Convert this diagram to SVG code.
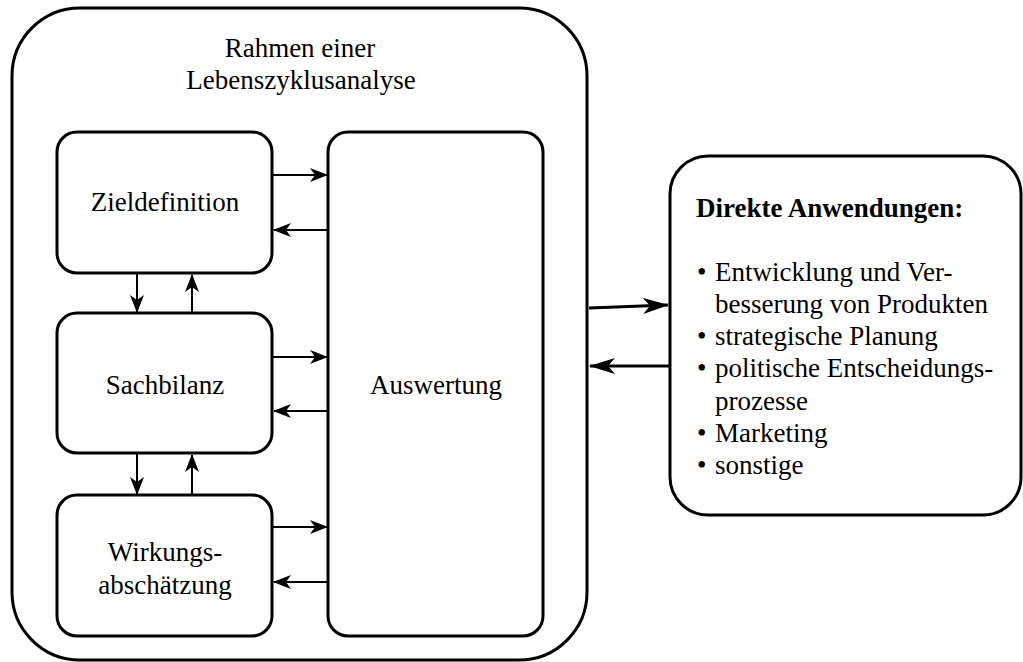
<svg xmlns="http://www.w3.org/2000/svg" width="1023" height="662" viewBox="0 0 1023 662">
  <style>
    .box { fill: #fff; stroke: #000; stroke-width: 3; }
    .lbl { font-family: "Liberation Serif", "Times New Roman", serif; font-size: 27px; fill: #000; }
    .c { text-anchor: middle; }
    .b { font-weight: bold; }
    .thin { stroke: #000; stroke-width: 2; fill: none; marker-end: url(#ah); }
    .thick { stroke: #000; stroke-width: 3; fill: none; marker-end: url(#ahb); }
  </style>
  <defs>
    <marker id="ah" markerUnits="userSpaceOnUse" viewBox="0 0 18 14" markerWidth="18" markerHeight="14" refX="17" refY="7" orient="auto">
      <path d="M0,0 L18,7 L0,14 L5,7 Z" fill="#000"/>
    </marker>
    <marker id="ahb" markerUnits="userSpaceOnUse" viewBox="0 0 26 16" markerWidth="26" markerHeight="16" refX="25" refY="8" orient="auto">
      <path d="M0,0 L26,8 L0,16 L7,8 Z" fill="#000"/>
    </marker>
  </defs>
  <rect width="1023" height="662" fill="#fff"/>

  <!-- Outer frame -->
  <g id="rahmen">
    <rect class="box" x="12" y="8" width="575" height="652" rx="68" ry="68"/>
    <text class="lbl c" x="300" y="57">Rahmen einer</text>
    <text class="lbl c" x="301" y="89">Lebenszyklusanalyse</text>
  </g>

  <g id="zieldefinition">
    <rect class="box" x="57" y="132" width="215" height="141" rx="20" ry="20"/>
    <text class="lbl c" x="165" y="211">Zieldefinition</text>
  </g>

  <g id="sachbilanz">
    <rect class="box" x="57" y="313" width="215" height="140" rx="20" ry="20"/>
    <text class="lbl c" x="165" y="394">Sachbilanz</text>
  </g>

  <g id="wirkungsabschaetzung">
    <rect class="box" x="57" y="495" width="215" height="141" rx="20" ry="20"/>
    <text class="lbl c" x="165" y="561">Wirkungs-</text>
    <text class="lbl c" x="165" y="594">abschätzung</text>
  </g>

  <g id="auswertung">
    <rect class="box" x="328" y="132" width="215" height="504" rx="20" ry="20"/>
    <text class="lbl c" x="436" y="394">Auswertung</text>
  </g>

  <g id="anwendungen">
    <rect class="box" x="670" y="156" width="351" height="359" rx="38" ry="38"/>
    <text class="lbl b" x="696" y="217">Direkte Anwendungen:</text>
    <text class="lbl" x="697" y="281">•</text>
    <text class="lbl" x="715" y="281">Entwicklung und Ver-</text>
    <text class="lbl" x="715" y="313">besserung von Produkten</text>
    <text class="lbl" x="697" y="345">•</text>
    <text class="lbl" x="715" y="345">strategische Planung</text>
    <text class="lbl" x="697" y="377">•</text>
    <text class="lbl" x="715" y="377">politische Entscheidungs-</text>
    <text class="lbl" x="715" y="410">prozesse</text>
    <text class="lbl" x="697" y="442">•</text>
    <text class="lbl" x="715" y="442">Marketing</text>
    <text class="lbl" x="697" y="474">•</text>
    <text class="lbl" x="715" y="474">sonstige</text>
  </g>

  <!-- Connectors -->
  <g id="connectors">
    <!-- phases to Auswertung and back -->
    <line class="thin" x1="273" y1="175" x2="327" y2="175"/>
    <line class="thin" x1="327" y1="230" x2="274" y2="230"/>
    <line class="thin" x1="273" y1="357" x2="327" y2="357"/>
    <line class="thin" x1="327" y1="411" x2="274" y2="411"/>
    <line class="thin" x1="273" y1="527" x2="327" y2="527"/>
    <line class="thin" x1="327" y1="582" x2="274" y2="582"/>
    <!-- between phases -->
    <line class="thin" x1="137" y1="274" x2="137" y2="312"/>
    <line class="thin" x1="192" y1="312" x2="192" y2="275"/>
    <line class="thin" x1="137" y1="454" x2="137" y2="494"/>
    <line class="thin" x1="192" y1="494" x2="192" y2="455"/>
    <!-- frame to applications -->
    <line class="thick" x1="589" y1="308" x2="668" y2="305"/>
    <line class="thick" x1="669" y1="366" x2="590" y2="366"/>
  </g>
</svg>
